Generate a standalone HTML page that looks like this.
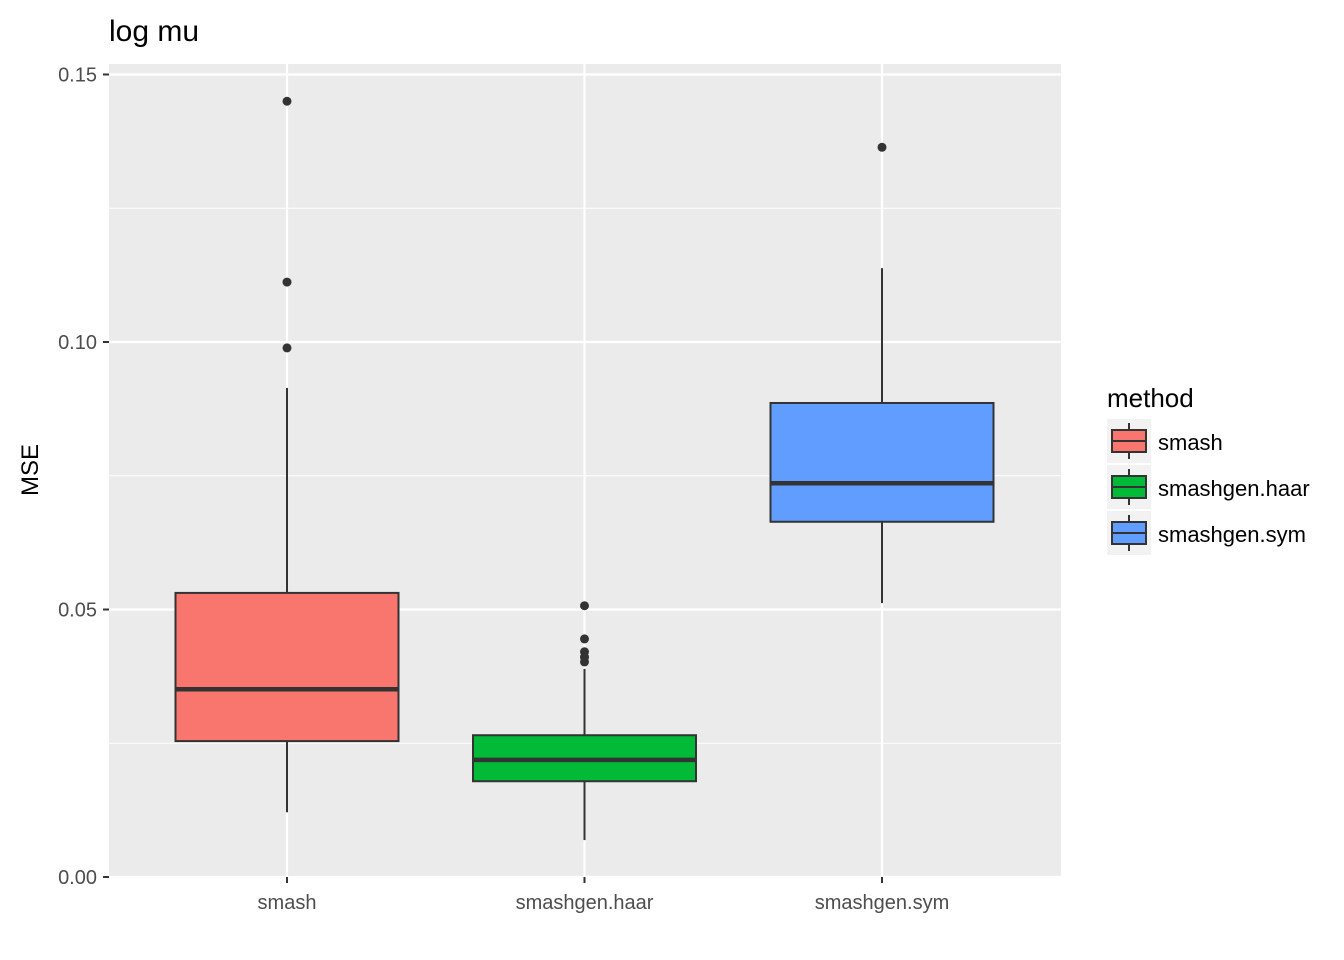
<!DOCTYPE html>
<html><head><meta charset="utf-8"><style>
body{margin:0;background:#fff;}
svg{display:block;font-family:"Liberation Sans",sans-serif;}
</style></head><body>
<svg id="chart" width="1344" height="960" xmlns="http://www.w3.org/2000/svg">
<rect width="1344" height="960" fill="#fff"/>
<text x="109" y="41" font-size="30" fill="#000">log mu</text>
<rect x="109" y="64" width="952" height="813" fill="#ebebeb"/>
<g id="grid"></g><g id="boxes"></g><g id="axes"></g>
<text transform="translate(38,470) rotate(-90)" text-anchor="middle" font-size="24" fill="#000">MSE</text>
<g id="legend"></g>
</svg>
<script>
const categories=["smash","smashgen.haar","smashgen.sym"];
const colors=["#F8766D","#00BA38","#619CFF"];
const q1=[0.0254,0.0179,0.0664];
const med=[0.0351,0.0219,0.0736];
const q3=[0.0531,0.0265,0.0886];
const whiskLo=[0.0121,0.0069,0.0512];
const whiskHi=[0.0914,0.0389,0.1138];
const outliers=[[0.145,0.1112,0.0989],[0.0507,0.0445,0.0421,0.0411,0.0402],[0.1364]];
const yTicks=[0,0.05,0.10,0.15];
const yTickLabels=["0.00","0.05","0.10","0.15"];
const NS="http://www.w3.org/2000/svg";
const y=v=>877-v*5350;
const x=i=>287+i*297.5;
function mk(tag,attrs,parent){const e=document.createElementNS(NS,tag);for(const k in attrs)e.setAttribute(k,attrs[k]);parent.appendChild(e);return e;}
const grid=document.getElementById('grid'),boxes=document.getElementById('boxes'),axes=document.getElementById('axes'),legend=document.getElementById('legend');
for(let i=0;i<yTicks.length-1;i++){const m=(yTicks[i]+yTicks[i+1])/2;
 const l=mk('line',{x1:109,x2:1061,y1:y(m),y2:y(m),stroke:'#fff','stroke-width':1},grid);
 
 }
yTicks.forEach((t,i)=>{
 const l=mk('line',{x1:109,x2:1061,y1:y(t),y2:y(t),stroke:'#fff','stroke-width':2.2},grid);
 
 
 mk('line',{x1:103,x2:109,y1:y(t),y2:y(t),stroke:'#333','stroke-width':2},axes);
 const tx=mk('text',{x:97,y:y(t)+7,'text-anchor':'end','font-size':20,fill:'#4d4d4d'},axes);
 tx.textContent=yTickLabels[i];
 
 
});
categories.forEach((c,i)=>{
 const cx=x(i);
 const g=mk('line',{x1:cx,x2:cx,y1:64,y2:877,stroke:'#fff','stroke-width':2.2},grid);
 
 
 mk('line',{x1:cx,x2:cx,y1:877,y2:883,stroke:'#333','stroke-width':2},axes);
 const tx=mk('text',{x:cx,y:909,'text-anchor':'middle','font-size':20,fill:'#4d4d4d'},axes);
 tx.textContent=c;
 
 
 const bg=mk('g',{},boxes);
 
 
 mk('line',{x1:cx,x2:cx,y1:y(whiskHi[i]),y2:y(q3[i]),stroke:'#333','stroke-width':2},bg);
 mk('line',{x1:cx,x2:cx,y1:y(q1[i]),y2:y(whiskLo[i]),stroke:'#333','stroke-width':2},bg);
 mk('rect',{x:cx-111.5,y:y(q3[i]),width:223,height:y(q1[i])-y(q3[i]),fill:colors[i],stroke:'#333','stroke-width':2},bg);
 mk('line',{x1:cx-111.5,x2:cx+111.5,y1:y(med[i]),y2:y(med[i]),stroke:'#333','stroke-width':4.5},bg);
 outliers[i].forEach(o=>{const p=mk('circle',{cx:cx,cy:y(o),r:4.5,fill:'#333'},bg);
  
  });
});
const lt=mk('text',{x:1107,y:407,'font-size':26,fill:'#000'},legend);
lt.textContent='method';


categories.forEach((c,i)=>{
 const top=419+i*46;
 const g=mk('g',{},legend);
 
 
 mk('rect',{x:1107,y:top,width:44,height:44,fill:'#f2f2f2'},g);
 mk('line',{x1:1129,x2:1129,y1:top+4,y2:top+40,stroke:'#333','stroke-width':2},g);
 mk('rect',{x:1112,y:top+11,width:34,height:22,fill:colors[i],stroke:'#333','stroke-width':2},g);
 mk('line',{x1:1112,x2:1146,y1:top+22,y2:top+22,stroke:'#333','stroke-width':2},g);
 const t=mk('text',{x:1158,y:top+31,'font-size':22,fill:'#000'},g);
 t.textContent=c;
});
</script>
</body></html>
